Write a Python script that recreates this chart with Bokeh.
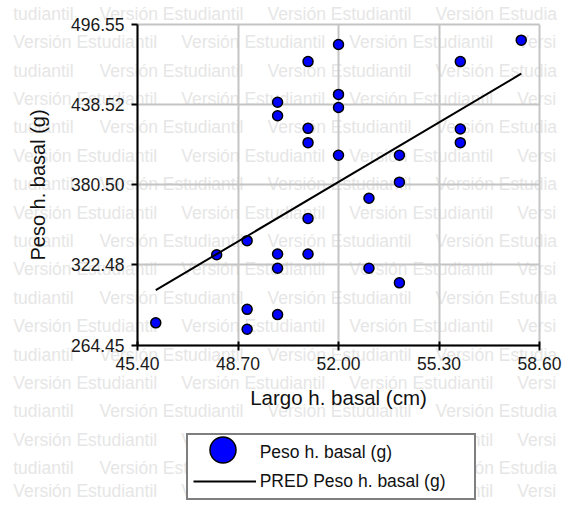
from bokeh.plotting import figure
from bokeh.models import FixedTicker, NumeralTickFormatter, Legend, LegendItem, Label
from bokeh.embed import file_html
from bokeh.resources import INLINE

# ---- data ----
largo = [52, 51, 50, 52, 52, 50, 51, 51, 52, 58, 56, 56, 56, 54,
         54, 53, 51, 49, 48, 50, 51, 50, 53, 54, 49, 50, 49, 46]
peso = [482.3, 469.9, 440.4, 446.1, 436.6, 430.6, 421.5, 411.1, 402.0, 485.4, 469.9, 421.0, 411.1, 402.0,
        382.5, 370.8, 356.2, 340.1, 329.9, 330.4, 330.4, 320.1, 320.1, 309.5, 290.3, 286.5, 275.9, 280.5]
pred_largo = [46, 58]
pred_peso = [304.2, 461.1]
x_ticks = [45.40, 48.70, 52.00, 55.30, 58.60]
y_ticks = [264.45, 322.48, 380.50, 438.52, 496.55]

FONT = "Liberation Sans"
W, H = 565, 501
# pixel box of the data area inside the canvas
PL, PR, PT, PB = 137.0, 539.0, 24.3, 344.5

sx = (x_ticks[-1] - x_ticks[0]) / (PR - PL)
sy = (y_ticks[-1] - y_ticks[0]) / (PB - PT)
x_range = (x_ticks[0] - PL * sx, x_ticks[-1] + (W - PR) * sx)
y_range = (y_ticks[0] - (H - PB) * sy, y_ticks[-1] + PT * sy)

p = figure(width=W, height=H, min_border=0, min_border_left=0, min_border_right=0,
           min_border_top=0, min_border_bottom=0,
           x_range=x_range, y_range=y_range,
           output_backend="svg", toolbar_location=None)
p.background_fill_color = "white"
p.border_fill_color = "white"
p.outline_line_color = None

# watermark
WM = "Versión Estudiantil"
WM_COLOR = "#e6e6e6"
WM_SIZE = 17.5
ADV = {"V": 667, "e": 556, "r": 333, "s": 500, "i": 222, "ó": 556, "n": 556, " ": 278,
       "E": 667, "t": 278, "u": 556, "d": 556, "a": 556, "l": 222}


def fit_text(text, cx):
    """longest prefix of text that stays inside the canvas"""
    w = 0.0
    out = ""
    for ch in text:
        w += ADV.get(ch, 556) * WM_SIZE / 1000.0
        if cx + w > W - 1:
            break
        out += ch
    return out.rstrip()


def wm_label(text, cx, cy):
    text = fit_text(text, cx)
    if not text:
        return
    p.add_layout(Label(x=cx, y=H - cy, x_units="screen", y_units="screen",
                       text=text, text_font=FONT, text_font_size=f"{WM_SIZE}px",
                       text_color=WM_COLOR, text_baseline="middle", text_align="left",
                       level="image"))


for k in range(18):
    cy = min(13.3 + 28.4 * k, H - 11)
    if k % 2:
        x0 = 12.7
    else:
        x0 = 99.0
        wm_label("tudiantil", 12.7, cy)
    for j in range(4):
        cx = x0 + 168 * j
        if cx > W:
            break
        wm_label(WM, cx, cy)

# axes
xa, ya = p.xaxis[0], p.yaxis[0]
for ax in (xa, ya):
    ax.axis_line_color = "black"
    ax.axis_line_width = 2
    ax.major_tick_line_color = "black"
    ax.major_tick_line_width = 2
    ax.minor_tick_line_color = None
    ax.major_label_text_font = FONT
    ax.major_label_text_font_size = "17.5px"
    ax.major_label_text_color = "#1a1a1a"
    ax.axis_label_text_font = FONT
    ax.axis_label_text_font_style = "normal"
    ax.axis_label_text_color = "#111111"
    ax.formatter = NumeralTickFormatter(format="0.00")
xa.axis_label_text_font_size = "20.5px"
ya.axis_label_text_font_size = "20px"

xa.ticker = FixedTicker(ticks=x_ticks)
ya.ticker = FixedTicker(ticks=y_ticks)
xa.bounds = (x_ticks[0], x_ticks[-1])
ya.bounds = (y_ticks[0], y_ticks[-1])
xa.fixed_location = y_ticks[0]
ya.fixed_location = x_ticks[0]
xa.axis_label = "Largo h. basal (cm)"
ya.axis_label = "Peso h. basal (g)"
xa.major_tick_in = 4
xa.major_tick_out = 5
ya.major_tick_in = 0
ya.major_tick_out = 6
xa.major_label_standoff = 7
ya.major_label_standoff = 7
xa.axis_label_standoff = 12
ya.axis_label_standoff = 19

for g in p.grid:
    g.grid_line_color = "#c4c4c4"
    g.grid_line_width = 2
p.xgrid[0].bounds = (x_ticks[0], x_ticks[-1])
p.xgrid[0].cross_bounds = (y_ticks[0], y_ticks[-1])
p.ygrid[0].bounds = (y_ticks[0], y_ticks[-1])
p.ygrid[0].cross_bounds = (x_ticks[0], x_ticks[-1])

sc = p.scatter(largo, peso, size=10, fill_color="#0000ff", line_color="black", line_width=1.5)
ln = p.line(pred_largo, pred_peso, line_color="black", line_width=2)

# legend (screen offsets from the canvas bottom-left)
PAD, GW, GH, SP = 5, 63, 24, 5
ITEM_H = 27          # measured height of one legend row
LBx, LBtop = 185.7, 431.0
LBh = 2 * PAD + 2 * ITEM_H + SP
legB = Legend(items=[LegendItem(label="Peso h. basal (g)", renderers=[sc]),
                     LegendItem(label="PRED Peso h. basal (g)", renderers=[ln])],
              location=(LBx, H - (LBtop + LBh)), orientation="vertical",
              glyph_width=GW, glyph_height=GH, label_height=GH, label_width=209,
              label_standoff=4, padding=PAD, spacing=SP, margin=0,
              border_line_color="black", border_line_width=2,
              background_fill_color="white", background_fill_alpha=1.0,
              label_text_font=FONT, label_text_font_size="17.5px", label_text_color="#111111")
p.add_layout(legB)

ccx, ccy = LBx + PAD + GW / 2, LBtop + PAD + ITEM_H / 2
G = 65
legA = Legend(items=[LegendItem(label=" ", renderers=[sc])],
              location=(ccx - G / 2, H - (ccy + G / 2)),
              glyph_width=G, glyph_height=G, label_standoff=0, label_width=0,
              padding=0, margin=0, border_line_color=None, background_fill_alpha=0.0,
              label_text_font=FONT, label_text_font_size="2px")
p.add_layout(legA)

open("out.html", "w").write(file_html(p, INLINE))
